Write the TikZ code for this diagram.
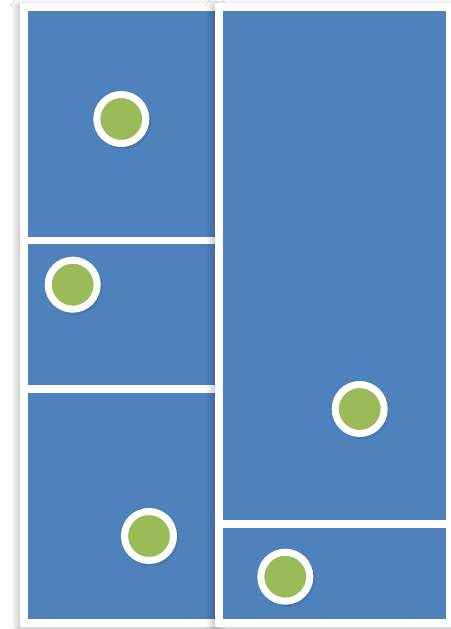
\documentclass[tikz,border=0pt]{standalone}
\usetikzlibrary{shadows.blur}
\definecolor{tileblue}{HTML}{4F81BD}
\definecolor{dotgreen}{HTML}{9BBB59}
\begin{document}
\begin{tikzpicture}[x=1pt,y=-1pt,
  frame/.style={fill=white,draw=none,rounded corners=2pt,
    blur shadow={shadow xshift=-3pt,shadow yshift=-2pt,shadow blur radius=6pt,shadow opacity=25,shadow blur steps=12}},
  tile/.style={fill=tileblue,draw=none,inner sep=0pt,outer sep=0pt,anchor=north west},
  dot/.style={circle,fill=dotgreen,draw=white,line width=7pt,minimum size=49pt,inner sep=0pt,
    blur shadow={shadow xshift=2pt,shadow yshift=-2.5pt,shadow blur radius=3pt,shadow opacity=40}}]
\useasboundingbox (0,0) rectangle (450,629);
\fill[white] (0,0) rectangle (450,629);
% left column
\path[frame] (20,3) rectangle (223,627);
\node[tile,minimum width=187pt,minimum height=226pt] (tl) at (28,11) {};
\node[tile,minimum width=187pt,minimum height=141pt] (ml) at (28,244) {};
\node[tile,minimum width=187pt,minimum height=226pt] (bl) at (28,393) {};
% right column
\path[frame] (215,3) rectangle (456,627);
\node[tile,minimum width=223pt,minimum height=509pt] (tr) at (223,11) {};
\node[tile,minimum width=223pt,minimum height=91pt] (br) at (223,528) {};
% dots
\node[dot] (d1) at (121.3,119) {};
\node[dot] (d2) at (72.7,284.7) {};
\node[dot] (d3) at (149,536) {};
\node[dot] (d4) at (359.7,409) {};
\node[dot] (d5) at (285.3,576.7) {};
\end{tikzpicture}
\end{document}
